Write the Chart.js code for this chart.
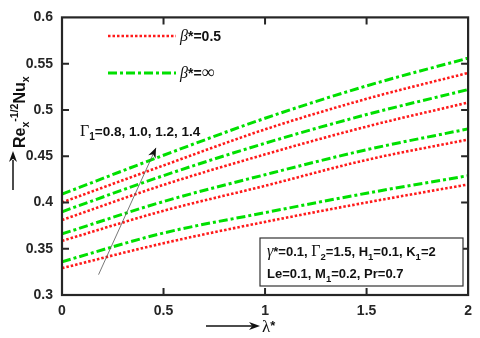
<!DOCTYPE html>
<html>
<head>
<meta charset="utf-8">
<script src="https://cdn.jsdelivr.net/npm/chart.js@4.4.0/dist/chart.umd.min.js"></script>
<style>
  html, body { margin: 0; padding: 0; background: #fff; }
  #wrap { width: 480px; height: 338px; position: relative; }
</style>
</head>
<body>
<div id="wrap"><canvas id="myChart" width="480" height="338"></canvas></div>
<script>
// lambda* values along the x axis
const lambdaVals = [0, 0.5, 1, 1.5, 2];
const xTicks = [0, 0.5, 1, 1.5, 2];
const yTicks = [0.3, 0.35, 0.4, 0.45, 0.5, 0.55, 0.6];
const gammaLabels = ['0.8', '1.0', '1.2', '1.4'];

// beta* = 0.5 (red dotted), Gamma1 = 0.8 .. 1.4
const red08 = [0.329, 0.356, 0.379, 0.400, 0.4195];
const red10 = [0.3585, 0.391, 0.418, 0.446, 0.468];
const red12 = [0.381, 0.419, 0.452, 0.482, 0.508];
const red14 = [0.400, 0.440, 0.479, 0.512, 0.540];

// beta* = infinity (green dash-dot)
const green08 = [0.336, 0.367, 0.389, 0.410, 0.429];
const green10 = [0.366, 0.401, 0.430, 0.457, 0.4795];
const green12 = [0.390, 0.429, 0.464, 0.495, 0.522];
const green14 = [0.409, 0.451, 0.491, 0.526, 0.556];

const RED = '#ff1a1a';
const GREEN = '#00e000';
const AXIS = '#262626';
const redDash = [2.5, 2];
const greenDash = [9, 3, 3, 3];
const redW = 2.6;
const greenW = 3;

function pts(ys) {
  return lambdaVals.map((x, i) => ({ x, y: ys[i] }));
}

function mkSet(label, ys, color, dash, width) {
  return {
    label,
    data: pts(ys),
    borderColor: color,
    backgroundColor: color,
    borderDash: dash,
    borderWidth: width,
    pointRadius: 0,
    fill: false,
    cubicInterpolationMode: 'monotone',
  };
}

const boldSans = (s) => `bold ${s}px "Liberation Sans", Arial, sans-serif`;
const serif = (s) => `${s}px "Liberation Serif", "Times New Roman", serif`;
const serifIt = (s) => `italic ${s}px "Liberation Serif", "Times New Roman", serif`;

// draw a list of text runs, each with its own font and baseline offset
function drawRuns(ctx, x, y, runs) {
  let cx = x;
  runs.forEach(r => {
    ctx.font = r.f;
    ctx.fillText(r.t, cx, y + (r.dy || 0));
    cx += ctx.measureText(r.t).width;
  });
  return cx;
}

function arrowHead(ctx, x, y, angle, len, w) {
  ctx.save();
  ctx.translate(x, y);
  ctx.rotate(angle);
  ctx.beginPath();
  ctx.moveTo(0, 0);
  ctx.lineTo(-len, -w);
  ctx.lineTo(-len * 0.7, 0);
  ctx.lineTo(-len, w);
  ctx.closePath();
  ctx.fill();
  ctx.restore();
}

const decorations = {
  id: 'decorations',
  afterDraw(chart) {
    const ctx = chart.ctx;
    const a = chart.chartArea;
    const xs = chart.scales.x, ys = chart.scales.y;
    ctx.save();

    // frame
    ctx.strokeStyle = AXIS;
    ctx.lineWidth = 2.2;
    ctx.strokeRect(a.left, a.top, a.right - a.left, a.bottom - a.top);

    // inward ticks on all four sides
    ctx.lineWidth = 2;
    ctx.beginPath();
    xTicks.slice(1, -1).forEach(v => {
      const px = xs.getPixelForValue(v);
      ctx.moveTo(px, a.bottom); ctx.lineTo(px, a.bottom - 7);
      ctx.moveTo(px, a.top); ctx.lineTo(px, a.top + 7);
    });
    yTicks.slice(1, -1).forEach(v => {
      const py = ys.getPixelForValue(v);
      ctx.moveTo(a.left, py); ctx.lineTo(a.left + 7, py);
      ctx.moveTo(a.right, py); ctx.lineTo(a.right - 7, py);
    });
    ctx.stroke();

    ctx.fillStyle = '#111';
    ctx.textBaseline = 'alphabetic';
    ctx.textAlign = 'left';

    // legend
    const leg = [
      { y: 36, color: RED, dash: redDash, w: redW, runs: [{ t: 'β', f: serifIt(16) }, { t: '*=0.5', f: boldSans(14) }] },
      { y: 73, color: GREEN, dash: greenDash, w: greenW, runs: [{ t: 'β', f: serifIt(16) }, { t: '*=', f: boldSans(14) }, { t: '∞', f: serif(18) }] },
    ];
    leg.forEach(l => {
      ctx.strokeStyle = l.color;
      ctx.lineWidth = l.w;
      ctx.setLineDash(l.dash);
      ctx.beginPath();
      ctx.moveTo(108, l.y); ctx.lineTo(176, l.y);
      ctx.stroke();
      ctx.setLineDash([]);
      drawRuns(ctx, 180, l.y + 5, l.runs);
    });

    // Gamma1 annotation with arrow
    drawRuns(ctx, 80, 136, [
      { t: 'Γ', f: serif(16) },
      { t: '1', f: boldSans(10), dy: 4 },
      { t: '=' + gammaLabels.join(', '), f: boldSans(13.5) },
    ]);
    const x0 = xs.getPixelForValue(0.18), y0 = ys.getPixelForValue(0.322);
    const x1 = xs.getPixelForValue(0.463), y1 = ys.getPixelForValue(0.459);
    ctx.strokeStyle = '#555';
    ctx.lineWidth = 0.8;
    ctx.beginPath();
    ctx.moveTo(x0, y0); ctx.lineTo(x1, y1);
    ctx.stroke();
    ctx.fillStyle = '#111';
    arrowHead(ctx, x1, y1, Math.atan2(y1 - y0, x1 - x0), 10, 4);

    // parameter box
    ctx.fillStyle = '#fff';
    ctx.fillRect(260, 238, 203, 48);
    ctx.strokeStyle = '#333';
    ctx.lineWidth = 1.2;
    ctx.strokeRect(260, 238, 203, 48);
    ctx.fillStyle = '#111';
    drawRuns(ctx, 267, 256, [
      { t: 'γ', f: serifIt(16) }, { t: '*=0.1, ', f: boldSans(13) },
      { t: 'Γ', f: serif(16) }, { t: '2', f: boldSans(9.5), dy: 4 }, { t: '=1.5, H', f: boldSans(13) },
      { t: '1', f: boldSans(9.5), dy: 4 }, { t: '=0.1, K', f: boldSans(13) },
      { t: '1', f: boldSans(9.5), dy: 4 }, { t: '=2', f: boldSans(13) },
    ]);
    drawRuns(ctx, 267, 278, [
      { t: 'Le=0.1, M', f: boldSans(13) }, { t: '1', f: boldSans(9.5), dy: 4 },
      { t: '=0.2, Pr=0.7', f: boldSans(13) },
    ]);

    // x title with arrow
    ctx.strokeStyle = '#111';
    ctx.lineWidth = 1.5;
    ctx.beginPath();
    ctx.moveTo(206, 326); ctx.lineTo(252, 326);
    ctx.stroke();
    arrowHead(ctx, 260, 326, 0, 11, 4);
    drawRuns(ctx, 262, 332, [{ t: 'λ', f: serif(17) }, { t: '*', f: boldSans(13), dy: -2 }]);

    // y title with arrow (rotated)
    ctx.beginPath();
    ctx.moveTo(13, 190); ctx.lineTo(13, 160);
    ctx.stroke();
    arrowHead(ctx, 13, 151, -Math.PI / 2, 11, 4);
    ctx.save();
    ctx.translate(25, 148);
    ctx.rotate(-Math.PI / 2);
    drawRuns(ctx, 0, 0, [
      { t: 'Re', f: boldSans(16) },
      { t: 'x', f: boldSans(10.5), dy: 4 },
      { t: '-1/2', f: boldSans(10.5), dy: -7 },
      { t: 'Nu', f: boldSans(16) },
      { t: 'x', f: boldSans(10.5), dy: 4 },
    ]);
    ctx.restore();

    ctx.restore();
  }
};

const ctx = document.getElementById('myChart').getContext('2d');
new Chart(ctx, {
  type: 'line',
  data: {
    datasets: [
      mkSet('β*=0.5, Γ1=0.8', red08, RED, redDash, redW),
      mkSet('β*=0.5, Γ1=1.0', red10, RED, redDash, redW),
      mkSet('β*=0.5, Γ1=1.2', red12, RED, redDash, redW),
      mkSet('β*=0.5, Γ1=1.4', red14, RED, redDash, redW),
      mkSet('β*=∞, Γ1=0.8', green08, GREEN, greenDash, greenW),
      mkSet('β*=∞, Γ1=1.0', green10, GREEN, greenDash, greenW),
      mkSet('β*=∞, Γ1=1.2', green12, GREEN, greenDash, greenW),
      mkSet('β*=∞, Γ1=1.4', green14, GREEN, greenDash, greenW),
    ]
  },
  options: {
    responsive: false,
    animation: false,
    layout: { padding: { left: 0, right: 8, top: 8, bottom: 0 } },
    plugins: { legend: { display: false }, tooltip: { enabled: false } },
    scales: {
      x: {
        type: 'linear',
        min: 0, max: 2,
        afterFit: s => { s.height = 43; },
        afterBuildTicks: s => { s.ticks = xTicks.map(v => ({ value: v })); },
        grid: { display: false, drawTicks: false },
        border: { display: false },
        ticks: { padding: 8, color: AXIS, font: { family: '"Liberation Sans", Arial', size: 14, weight: 'bold' }, callback: v => String(v) }
      },
      y: {
        min: 0.3, max: 0.6,
        afterFit: s => { s.width = 62; },
        afterBuildTicks: s => { s.ticks = yTicks.map(v => ({ value: v })); },
        grid: { display: false, drawTicks: false },
        border: { display: false },
        ticks: { padding: 9, color: AXIS, font: { family: '"Liberation Sans", Arial', size: 14, weight: 'bold' }, callback: v => String(+v.toFixed(2)) }
      }
    }
  },
  plugins: [decorations]
});
</script>
</body>
</html>
